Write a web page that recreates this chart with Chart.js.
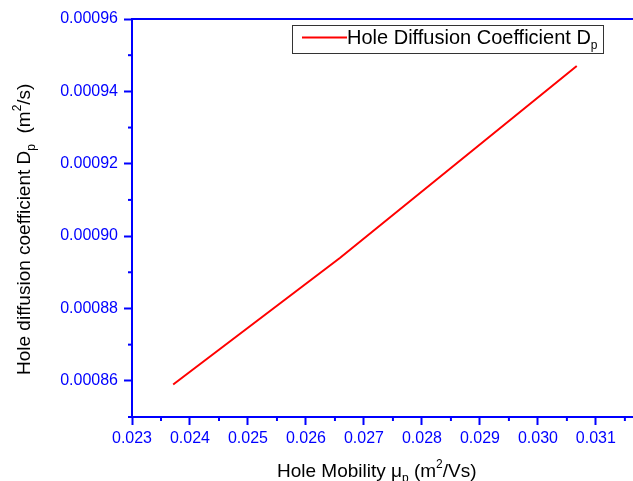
<!DOCTYPE html>
<html>
<head>
<meta charset="utf-8">
<script src="https://cdn.jsdelivr.net/npm/chart.js@4.4.1/dist/chart.umd.min.js"></script>
<style>
body { margin: 0; background: #fff; }
#wrap { width: 633px; height: 481px; }
</style>
</head>
<body>
<div id="wrap"><canvas id="grafico" width="633" height="481"></canvas></div>
<script>
// datos
const movilidad = [0.02371, 0.02659, 0.03067];
const difusion = [0.000859, 0.000894, 0.000947];
const xlabels = ['0.023', '0.024', '0.025', '0.026', '0.027', '0.028', '0.029', '0.030', '0.031'];
const ylabels = ['0.00086', '0.00088', '0.00090', '0.00092', '0.00094', '0.00096'];
const leyenda = 'Hole Diffusion Coefficient D';

const azul = '#0000ff';
const fuente = '"Liberation Sans", Arial, sans-serif';

const puntos = movilidad.map((m, i) => ({ x: m, y: difusion[i] }));

// etiqueta de la marca (vacia si es menor)
const etiquetaX = v => {
  const k = Math.round(v * 2000);
  return k % 2 ? '' : (xlabels[(k - 46) / 2] || '');
};
const etiquetaY = v => {
  const k = Math.round(v * 100000);
  return k % 2 ? '' : (ylabels[(k - 86) / 2] || '');
};

// marcas menores cortas (las mayores las pone Chart.js)
const menores = {
  id: 'menores',
  afterDraw(chart) {
    const ctx = chart.ctx;
    ctx.save();
    ctx.strokeStyle = azul;
    ctx.lineWidth = 2;
    const sx = chart.scales.x, sy = chart.scales.y;
    sx.ticks.forEach(t => {
      if (etiquetaX(t.value)) return;
      const px = sx.getPixelForValue(t.value);
      ctx.beginPath(); ctx.moveTo(px, sx.top); ctx.lineTo(px, sx.top + 4); ctx.stroke();
    });
    sy.ticks.forEach(t => {
      if (etiquetaY(t.value)) return;
      const py = sy.getPixelForValue(t.value);
      ctx.beginPath(); ctx.moveTo(sy.right, py); ctx.lineTo(sy.right - 4, py); ctx.stroke();
    });
    ctx.restore();
  }
};

function partes(ctx, lista, x, y, tam) {
  lista.forEach(p => {
    ctx.font = (p.s ? '12px ' : tam + 'px ') + fuente;
    const dy = p.s === 'sub' ? 5 : (p.s === 'sup' ? -9 : 0);
    ctx.fillText(p.t, x, y + dy);
    x += ctx.measureText(p.t).width;
  });
}

// titulos y leyenda con subindices
const textos = {
  id: 'textos',
  afterDraw(chart) {
    const ctx = chart.ctx;
    const ca = chart.chartArea;
    ctx.save();
    ctx.fillStyle = '#000';
    ctx.textAlign = 'left';
    ctx.textBaseline = 'alphabetic';

    partes(ctx, [{ t: 'Hole Mobility \u03bc' }, { t: 'p', s: 'sub' }, { t: ' (m' }, { t: '2', s: 'sup' }, { t: '/Vs)' }], 277, 477, 19);

    ctx.save();
    ctx.translate(30, 375);
    ctx.rotate(-Math.PI / 2);
    partes(ctx, [{ t: 'Hole diffusion coefficient D' }, { t: 'p', s: 'sub' }, { t: '  (m' }, { t: '2', s: 'sup' }, { t: '/s)' }], 0, 0, 19);
    ctx.restore();

    // leyenda
    const bx = ca.left + 160, by = ca.top + 6;
    ctx.strokeStyle = '#333';
    ctx.lineWidth = 1;
    ctx.strokeRect(bx + 0.5, by + 0.5, 311, 28);
    ctx.strokeStyle = chart.data.datasets[0].borderColor;
    ctx.lineWidth = 2;
    ctx.beginPath(); ctx.moveTo(bx + 10, by + 12.5); ctx.lineTo(bx + 55, by + 12.5); ctx.stroke();
    partes(ctx, [{ t: leyenda }, { t: 'p', s: 'sub' }], bx + 55, by + 19, 20);
    ctx.restore();
  }
};

new Chart(document.getElementById('grafico').getContext('2d'), {
  type: 'line',
  data: {
    datasets: [{
      label: leyenda + 'p',
      data: puntos,
      borderColor: '#ff0000',
      borderWidth: 2,
      pointRadius: 0,
      tension: 0,
      fill: false
    }]
  },
  options: {
    responsive: false,
    animation: false,
    layout: { padding: 0 },
    plugins: { legend: { display: false }, tooltip: { enabled: false } },
    scales: {
      x: {
        type: 'linear',
        position: 'bottom',
        min: 0.023,
        max: 0.03164,
        afterFit: s => { s.height = 64; },
        border: { display: true, color: azul, width: 2 },
        grid: {
          drawOnChartArea: false,
          tickLength: 8,
          tickWidth: 2,
          tickColor: c => etiquetaX(c.tick.value) ? azul : 'rgba(0,0,0,0)'
        },
        ticks: {
          stepSize: 0.0005,
          includeBounds: false,
          maxRotation: 0,
          autoSkip: false,
          padding: 4,
          color: azul,
          font: { family: fuente, size: 16 },
          callback: v => etiquetaX(v)
        }
      },
      arriba: {
        type: 'linear',
        position: 'top',
        min: 0.023,
        max: 0.03164,
        afterFit: s => { s.height = 19; },
        border: { display: true, color: azul, width: 2 },
        grid: { display: false },
        ticks: { display: false }
      },
      y: {
        type: 'linear',
        position: 'left',
        min: 0.00085,
        max: 0.00096,
        afterFit: s => { s.width = 132; },
        border: { display: true, color: azul, width: 2 },
        grid: {
          drawOnChartArea: false,
          tickLength: 8,
          tickWidth: 2,
          tickColor: c => etiquetaY(c.tick.value) ? azul : 'rgba(0,0,0,0)'
        },
        ticks: {
          stepSize: 0.00001,
          includeBounds: false,
          autoSkip: false,
          padding: 6,
          color: azul,
          font: { family: fuente, size: 16 },
          callback: v => etiquetaY(v)
        }
      }
    }
  },
  plugins: [menores, textos]
});
</script>
</body>
</html>
